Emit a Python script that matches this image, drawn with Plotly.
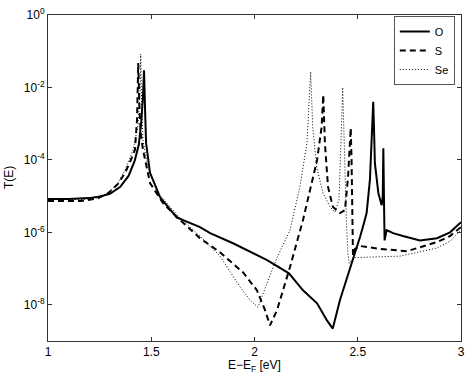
import plotly.graph_objects as go

# O
e_o = [1.000, 1.100, 1.200, 1.250, 1.300, 1.350, 1.390, 1.420, 1.440, 1.452, 1.460, 1.465, 1.470, 1.475,
       1.494, 1.542, 1.623, 1.736, 1.785, 1.896, 2.061, 2.167, 2.235, 2.303, 2.351, 2.379,
       2.414, 2.477, 2.511, 2.525, 2.543, 2.559, 2.570, 2.575, 2.579, 2.583, 2.600, 2.616,
       2.621, 2.624, 2.627, 2.630, 2.640, 2.671, 2.719, 2.801, 2.884, 2.947, 3.000]
t_o = [8.3e-6, 8.3e-6, 8.8e-6, 9.8e-6, 1.15e-5, 1.8e-5, 3.6e-5, 9.5e-5, 2.7e-4, 1.2e-3, 6e-3, 3.0e-2, 2.4e-3, 2.9e-4,
       4.4e-5, 9.4e-6, 2.6e-6, 1.4e-6, 9.5e-7, 5.0e-7, 1.7e-7, 7.4e-8, 2.5e-8, 1.1e-8, 3.7e-9, 2.2e-9,
       1.35e-8, 1.7e-7, 7.4e-7, 1.4e-6, 3.4e-6, 2.8e-5, 6.6e-4, 4.0e-3, 6.6e-4, 8.1e-5, 1.2e-5, 5.6e-6,
       9.4e-6, 2.1e-4, 9.4e-6, 6.0e-7, 1.15e-6, 9.5e-7, 7.9e-7, 6.0e-7, 6.9e-7, 1.0e-6, 1.9e-6]

# S
e_s = [1.000, 1.160, 1.240, 1.291, 1.340, 1.373, 1.397, 1.421, 1.431, 1.437, 1.443, 1.450, 1.460, 1.494,
       1.557, 1.639, 1.736, 1.833, 1.944, 2.012, 2.051, 2.075, 2.109, 2.148, 2.172, 2.235,
       2.303, 2.325, 2.333, 2.341, 2.356, 2.380, 2.414, 2.438, 2.453, 2.462, 2.466, 2.470,
       2.472, 2.477, 2.487, 2.511, 2.608, 2.738, 2.884, 2.947, 3.000]
t_s = [7.3e-6, 7.3e-6, 8.6e-6, 1.2e-5, 2.2e-5, 4.4e-5, 8.7e-5, 1.9e-4, 1.26e-3, 4.7e-2, 2.4e-3, 4.9e-4, 1.9e-4, 2.3e-5,
       6.4e-6, 2.2e-6, 6.9e-7, 2.8e-7, 7.9e-8, 2.5e-8, 7.1e-9, 2.7e-9, 7.1e-9, 4.0e-8, 1.1e-7, 2.2e-6,
       9.8e-5, 8.1e-4, 6.2e-3, 2.9e-4, 1.8e-5, 5.0e-6, 3.4e-6, 4.1e-6, 3.3e-5, 2.9e-4, 7.6e-4, 1.0e-4,
       1.2e-5, 2.3e-7, 3.5e-7, 4.2e-7, 3.5e-7, 3.0e-7, 5.4e-7, 7.9e-7, 1.4e-6]

# Se
e_se = [1.000, 1.160, 1.240, 1.291, 1.340, 1.373, 1.412, 1.436, 1.446, 1.449, 1.453, 1.460, 1.484, 1.542,
        1.639, 1.736, 1.833, 1.930, 1.978, 2.017, 2.061, 2.109, 2.172, 2.220, 2.254, 2.269,
        2.272, 2.276, 2.282, 2.301, 2.332, 2.366, 2.390, 2.409, 2.417, 2.424, 2.427, 2.431,
        2.438, 2.446, 2.453, 2.459, 2.480, 2.705, 2.884, 2.947, 3.000]
t_se = [8.0e-6, 8.0e-6, 9.0e-6, 1.2e-5, 2.4e-5, 5.2e-5, 1.9e-4, 9.1e-4, 8.5e-3, 8.3e-2, 4.5e-3, 3.5e-4, 6.3e-5, 1.07e-5,
        2.5e-6, 7.9e-7, 2.2e-7, 3.1e-8, 1.35e-8, 8.5e-9, 4.0e-8, 2.0e-7, 1.15e-6, 1.8e-5, 2.9e-4, 7.0e-3,
        2.7e-2, 6.3e-3, 8.1e-4, 6.3e-5, 1.2e-5, 5.0e-6, 3.6e-6, 7.8e-6, 9.8e-5, 2.4e-3, 1.0e-2, 1.3e-3,
        9.8e-5, 1.4e-6, 2.3e-7, 1.4e-7, 2.0e-7, 2.2e-7, 3.7e-7, 5.7e-7, 1.15e-6]

x_ticks = [1, 1.5, 2, 2.5, 3]
x_labels = ["1", "1.5", "2", "2.5", "3"]
y_ticks = [1, 1e-2, 1e-4, 1e-6, 1e-8]
y_labels = ["10<sup>0</sup>", "10<sup>-2</sup>", "10<sup>-4</sup>", "10<sup>-6</sup>", "10<sup>-8</sup>"]

fig = go.Figure()
fig.add_trace(go.Scatter(x=e_o, y=t_o, mode="lines", name="O",
                         line=dict(color="black", width=2)))
fig.add_trace(go.Scatter(x=e_s, y=t_s, mode="lines", name="S",
                         line=dict(color="black", width=2, dash="6px,4px")))
fig.add_trace(go.Scatter(x=e_se, y=t_se, mode="lines", name="Se",
                         line=dict(color="black", width=1, dash="1px,2px")))

axis_common = dict(showline=True, linecolor="#333", linewidth=1, mirror="ticks",
                   ticks="inside", ticklen=4, tickcolor="#333", showgrid=False,
                   zeroline=False, automargin=False, ticklabeloverflow="allow",
                   tickfont=dict(size=12, color="black"))

fig.update_xaxes(range=[0.9999, 3.0001], tickvals=x_ticks, ticktext=x_labels, **axis_common)
fig.update_yaxes(type="log", range=[-9, 0.0001], tickvals=y_ticks, ticktext=y_labels, **axis_common)

# axis titles
fig.add_annotation(text="E\u2212E<sub>F</sub> [eV]", xref="paper", yref="paper",
                   x=0.5, y=0, yshift=-25, yanchor="middle", showarrow=False,
                   font=dict(size=12, color="black"))
fig.add_annotation(text="T(E)", xref="paper", yref="paper", textangle=-90,
                   x=0, xshift=-39, y=0.5, xanchor="center", showarrow=False,
                   font=dict(size=12, color="black"))

fig.update_layout(
    width=469, height=378,
    margin=dict(l=48, r=8, t=15, b=37),
    plot_bgcolor="white", paper_bgcolor="white",
    font=dict(family="Liberation Sans, Arial, sans-serif", size=12, color="black"),
    legend=dict(x=0.985, y=0.997, xanchor="right", yanchor="top",
                bgcolor="white", bordercolor="#555", borderwidth=1,
                itemwidth=30, tracegroupgap=0, font=dict(size=11)),
)

# drop the page's default body margin so the figure sits at the window's corner
fig.write_html("out.html", config={"displayModeBar": False},
               post_script="document.body.style.margin='0';")
